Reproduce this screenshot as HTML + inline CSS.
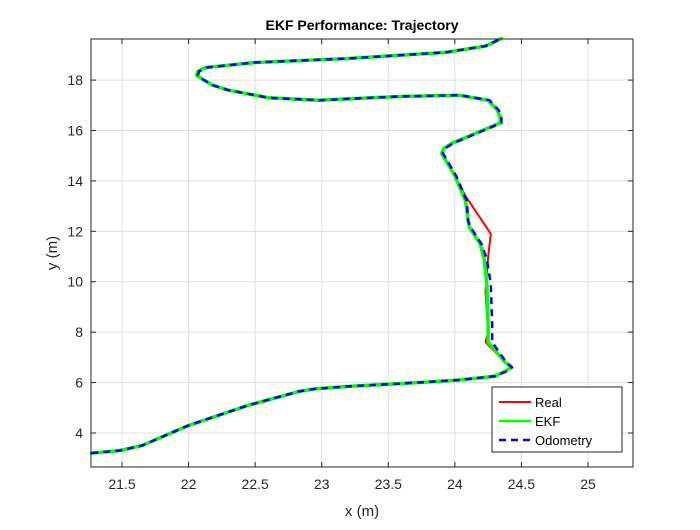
<!DOCTYPE html>
<html><head><meta charset="utf-8"><style>body{margin:0;background:#fff}svg{font-family:"Liberation Sans",Arial,sans-serif}</style></head>
<body>
<svg id="c" width="700" height="525" viewBox="0 0 700 525"></svg>
<script>
const xTicks=[21.5,22,22.5,23,23.5,24,24.5,25];
const yTicks=[4,6,8,10,12,14,16,18];
const ekfX=[21.27,21.48,21.65,22.0,22.45,22.83,22.95,23.2,23.73,24.03,24.3,24.38,24.42,24.37,24.25,24.25,24.24,24.22,24.19,24.14,24.11,24.1,24.08,24.0,23.9,23.92,23.98,24.34,24.34,24.32,24.25,24.03,23.58,22.98,22.6,22.3,22.18,22.1,22.06,22.07,22.13,22.5,23.18,23.93,24.23,24.35];
const ekfY=[3.2,3.3,3.5,4.3,5.1,5.65,5.75,5.85,6.0,6.1,6.25,6.45,6.6,6.85,7.6,8.3,9.9,10.9,11.5,11.9,12.15,12.4,13.2,14.2,15.1,15.3,15.5,16.3,16.5,16.8,17.2,17.4,17.35,17.2,17.3,17.6,17.8,18.05,18.2,18.35,18.5,18.7,18.85,19.1,19.35,19.65];
const realX=[21.27,21.48,21.65,22.0,22.45,22.83,22.95,23.2,23.73,24.03,24.3,24.38,24.42,24.37,24.23,24.25,24.23,24.25,24.27,24.08,24.0,23.9,23.92,23.98,24.34,24.34,24.32,24.25,24.03,23.58,22.98,22.6,22.3,22.18,22.1,22.06,22.07,22.13,22.5,23.18,23.93,24.23,24.35];
const realY=[3.2,3.3,3.5,4.3,5.1,5.65,5.75,5.85,6.0,6.1,6.25,6.45,6.6,6.85,7.6,8.0,9.6,11.0,11.9,13.4,14.2,15.1,15.3,15.5,16.3,16.5,16.8,17.2,17.4,17.35,17.2,17.3,17.6,17.8,18.05,18.2,18.35,18.5,18.7,18.85,19.1,19.35,19.65];
const odoX=[21.27,21.48,21.65,22.0,22.45,22.83,22.95,23.2,23.73,24.03,24.3,24.39,24.43,24.38,24.28,24.28,24.27,24.24,24.2,24.15,24.12,24.1,24.09,24.01,23.91,23.93,23.99,24.35,24.35,24.33,24.26,24.04,23.58,22.98,22.6,22.3,22.18,22.1,22.07,22.08,22.14,22.5,23.18,23.93,24.23,24.35];
const odoY=ekfY.slice();
const X0=21.267,X1=25.338,Y0=2.65,Y1=19.63,L=91,R=633,T=39,B=467;
const sx=v=>L+(v-X0)/(X1-X0)*(R-L), sy=v=>B-(v-Y0)/(Y1-Y0)*(B-T);
const svg=document.getElementById('c'),NS='http://www.w3.org/2000/svg';
function mk(t,a,p){const e=document.createElementNS(NS,t);for(const k in a)e.setAttribute(k,a[k]);(p||svg).appendChild(e);return e;}
const bg=mk('rect',{x:L,y:T,width:R-L,height:B-T,fill:'#fff'});


xTicks.forEach(v=>{const x=sx(v);
 const g=mk('line',{x1:x,x2:x,y1:T,y2:B,stroke:'#dfdfdf','stroke-width':1});
 
 
 mk('line',{x1:x,x2:x,y1:B,y2:B-5,stroke:'#262626'});mk('line',{x1:x,x2:x,y1:T,y2:T+5,stroke:'#262626'});
 const t=mk('text',{x:x,y:B+22,'text-anchor':'middle','font-size':14,fill:'#262626'});t.textContent=v;
 
 });
yTicks.forEach(v=>{const y=sy(v);
 const g=mk('line',{x1:L,x2:R,y1:y,y2:y,stroke:'#dfdfdf','stroke-width':1});
 
 
 mk('line',{x1:L,x2:L+5,y1:y,y2:y,stroke:'#262626'});mk('line',{x1:R,x2:R-5,y1:y,y2:y,stroke:'#262626'});
 const t=mk('text',{x:L-8,y:y+5,'text-anchor':'end','font-size':14,fill:'#262626'});t.textContent=v;
 
 });
function line(xs,ys,st,name){const p=mk('polyline',Object.assign({points:xs.map((v,i)=>sx(v)+','+sy(ys[i])).join(' '),fill:'none','stroke-linejoin':'round','stroke-linecap':'round'},st));
 
 }
line(realX,realY,{stroke:'#ff0000','stroke-width':2},'real-series');
line(ekfX,ekfY,{stroke:'#00ff00','stroke-width':3.5},'ekf-series');
line(odoX,odoY,{stroke:'#0000ff','stroke-width':2.5,'stroke-dasharray':'7,5','stroke-linecap':'butt'},'odometry-series');
const fr=mk('rect',{x:L,y:T,width:R-L,height:B-T,fill:'none',stroke:'#262626','stroke-width':1});


</script>
<div style="position:absolute;left:0;top:0;width:700px;height:525px;pointer-events:none">
<svg width="700" height="525" style="position:absolute;left:0;top:0">
<text x="362" y="30" text-anchor="middle" font-size="14" font-weight="bold" fill="#000" font-family="Liberation Sans,sans-serif">EKF Performance: Trajectory</text>
<text x="362" y="516" text-anchor="middle" font-size="15" fill="#262626" font-family="Liberation Sans,sans-serif">x (m)</text>
<text x="57" y="253" text-anchor="middle" font-size="15" fill="#262626" font-family="Liberation Sans,sans-serif" transform="rotate(-90 57 253)">y (m)</text>
<g font-family="Liberation Sans,sans-serif" font-size="13" fill="#000">
<rect x="492" y="387" width="130" height="65" fill="#fff" stroke="#262626" stroke-width="1"/>
<line x1="499" x2="531" y1="402" y2="402" stroke="#ff0000" stroke-width="2"/>
<text x="535" y="407">Real</text>
<line x1="499" x2="531" y1="421" y2="421" stroke="#00ff00" stroke-width="2.5"/>
<text x="535" y="426">EKF</text>
<line x1="499" x2="531" y1="440" y2="440" stroke="#0000ff" stroke-width="2.5" stroke-dasharray="7,5"/>
<text x="535" y="445">Odometry</text>
</g>
</svg></div>
</body></html>
